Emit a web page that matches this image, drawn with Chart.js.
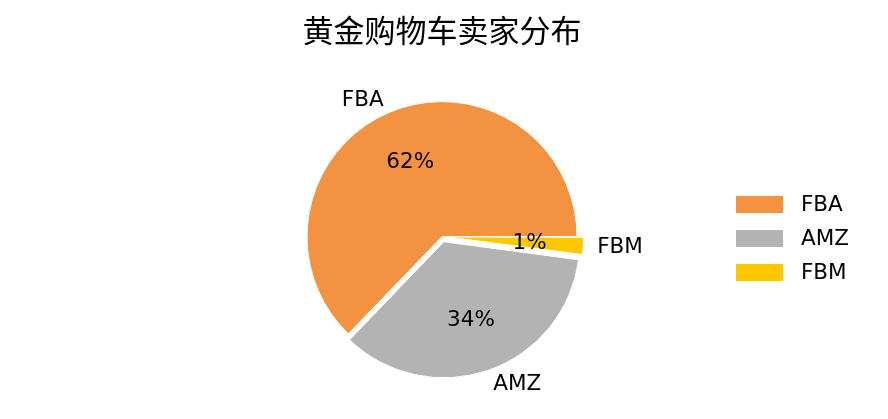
<!DOCTYPE html>
<html>
<head>
<meta charset="utf-8">
<script src="https://cdn.jsdelivr.net/npm/chart.js@4"></script>
<style>
  html, body { margin: 0; padding: 0; background: #fff; }
</style>
</head>
<body>
<canvas id="sellerChart" width="888" height="419"></canvas>
<script>
// seller types, slice shares and the printed percentages
const categories = ['FBA', 'AMZ', 'FBM'];
const shares = [62.8, 35.1, 2.1];
const pctLabels = ['62%', '34%', '1%'];

const colors = ['#f39240', '#b3b3b3', '#fdc800'];
const explode = [0, 6.5, 6.5];   // wanted shift in px

// matplotlib draws counter-clockwise from 3 o'clock, Chart.js clockwise -> reverse order
const order = [2, 1, 0];
const labelFont = '21.5px "DejaVu Sans"';

// Chart.js arc moves by offset/4 * (1 + fix), fix = 1 - sin(circumference)
const total = shares.reduce((a, b) => a + b, 0);
function chartOffset(i) {
  const circ = shares[i] / total * Math.PI * 2;
  const fix = 1 - Math.sin(Math.min(Math.PI, circ));
  return explode[i] / ((1 + fix) / 4);
}

const sliceText = {
  id: 'sliceText',
  afterDatasetsDraw(chart) {
    const ctx = chart.ctx;
    const meta = chart.getDatasetMeta(0);
    ctx.save();
    ctx.font = labelFont;
    ctx.fillStyle = '#000';
    ctx.textBaseline = 'middle';
    meta.data.forEach((arc, j) => {
      const i = order[j];
      const p = arc.getProps(['x', 'y', 'startAngle', 'endAngle', 'outerRadius'], true);
      const mid = (p.startAngle + p.endAngle) / 2;
      const cx = p.x + Math.cos(mid) * explode[i];
      const cy = p.y + Math.sin(mid) * explode[i];
      const r = p.outerRadius + 0.5;
      // outer category label
      const lx = cx + Math.cos(mid) * r * 1.1;
      const ly = cy + Math.sin(mid) * r * 1.1 + 1;
      ctx.textAlign = Math.cos(mid) < 0 ? 'right' : 'left';
      ctx.fillText(categories[i], lx, ly);
      // percentage inside
      ctx.textAlign = 'center';
      ctx.fillText(pctLabels[i], cx + Math.cos(mid) * r * 0.6, cy + Math.sin(mid) * r * 0.6 + 1);
    });
    ctx.restore();
  }
};

const sideLegend = {
  id: 'sideLegend',
  afterDraw(chart) {
    const ctx = chart.ctx;
    ctx.save();
    ctx.font = labelFont;
    ctx.textBaseline = 'middle';
    ctx.textAlign = 'left';
    categories.forEach((name, i) => {
      const yc = 204.5 + i * 34;
      ctx.fillStyle = colors[i];
      ctx.fillRect(736, yc - 8.5, 47, 17);
      ctx.fillStyle = '#000';
      ctx.fillText(name, 801, yc + 1);
    });
    ctx.restore();
  }
};

const ctx = document.getElementById('sellerChart').getContext('2d');

const sellerChart = new Chart(ctx, {
  type: 'pie',
  data: {
    labels: order.map(i => categories[i]),
    datasets: [{
      data: order.map(i => shares[i]),
      backgroundColor: order.map(i => colors[i]),
      offset: order.map(i => chartOffset(i)),
      borderColor: '#ffffff',
      borderWidth: 1,
      radius: 135
    }]
  },
  options: {
    responsive: false,
    animation: false,
    events: [],
    rotation: 90,
    layout: { padding: { left: 0, right: 4, top: 0, bottom: 0 } },
    plugins: {
      legend: { display: false },
      tooltip: { enabled: false },
      title: {
        display: true,
        text: '黄金购物车卖家分布',
        color: '#000',
        font: { family: '"Noto Sans CJK SC"', size: 31, weight: 'normal' },
        padding: { top: 12, bottom: 5 }
      }
    }
  },
  plugins: [sliceText, sideLegend]
});
</script>
</body>
</html>
